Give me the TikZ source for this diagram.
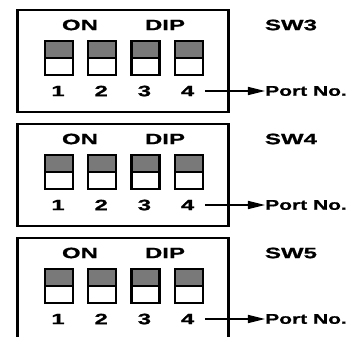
\documentclass[tikz,border=0pt]{standalone}
\usepackage{fontspec}
\setmainfont{Liberation Sans}
\newfontfamily\lblfont{Liberation Sans Bold}[Scale=1.5, FakeStretch=1.6, FakeBold=1]
\newfontfamily\portfont{Liberation Sans Bold}[Scale=1.4, FakeStretch=1.5, FakeBold=1]
\usetikzlibrary{arrows.meta}
\begin{document}
\begin{tikzpicture}[x=1pt,y=-1pt,
  lbl/.style={font=\lblfont, inner sep=0pt},
  port/.style={font=\portfont, inner sep=0pt, anchor=west},
  frame/.style={draw, line width=2.2pt, inner sep=0pt, anchor=north west,
    minimum width=211pt, minimum height=102pt},
  swon/.style={draw, line width=2.2pt, fill=gray!95!black, inner sep=0pt, anchor=north west,
    minimum width=28pt, minimum height=17pt},
  swoff/.style={draw, line width=2.2pt, fill=white, inner sep=0pt, anchor=north west,
    minimum width=28pt, minimum height=17pt},
  arr/.style={line width=1.6pt, -{Triangle[length=17pt,width=8pt]}}]
\useasboundingbox (0,0) rectangle (360,337);
\clip (0,0) rectangle (360,337);
\foreach \k/\T/\n in {1/9/3, 2/123/4, 3/237/5} {
  \node[frame] (box\k) at (16.5,\T) {};
  \node[lbl] (on\k) at (80,\T+16) {ON};
  \node[lbl] (dip\k) at (165,\T+16) {DIP};
  \node[lbl] (sw\k) at (291,\T+16) {SW\n};
  \foreach \i/\x in {1/44, 2/87.2, 3/130.4, 4/173.6} {
    \node[swon] (up\k\i) at (\x,\T+31) {};
    \node[swoff] (dn\k\i) at (\x,\T+48) {};
    \node[lbl] (num\k\i) at (\x+14,\T+82) {\i};
  }
  \coordinate (a\k) at (205,\T+82);
  \node[port] (p\k) at (265,\T+82) {Port No.};
  \draw[arr] (a\k) -- (p\k.west);
}
\end{tikzpicture}
\end{document}
